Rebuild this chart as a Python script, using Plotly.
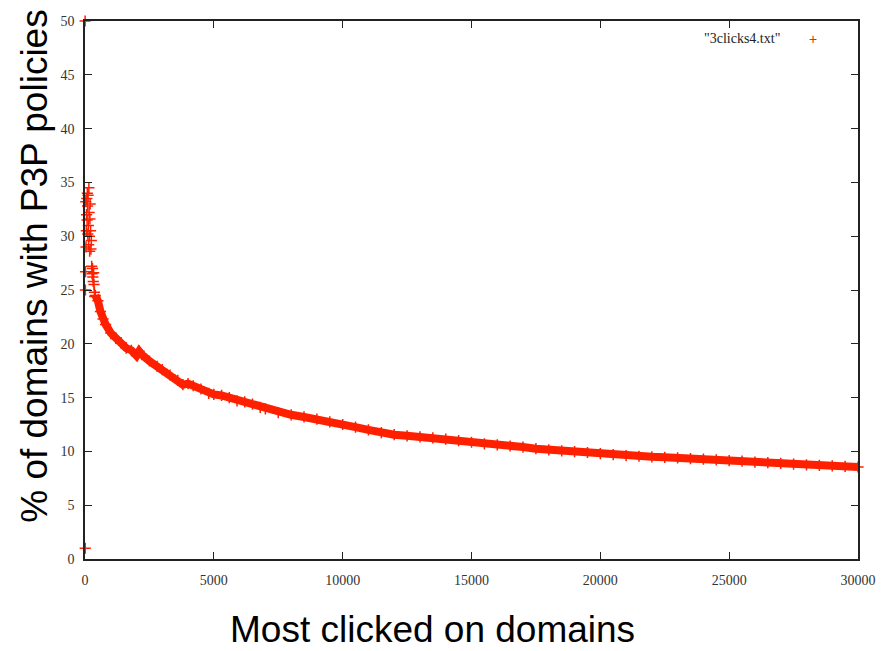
import plotly.graph_objects as go

# Early, noisy part of the series (rank of domain, % with P3P policy)
x_early = [5, 10, 15, 20, 30, 40, 50, 60, 70, 80, 90, 100, 110, 120, 130, 140, 150,
           160, 170, 180, 190, 200, 215, 230, 245, 260, 275, 290, 305, 320, 335, 350, 365, 380]
y_early = [50.0, 1.0, 25.0, 26.7, 33.2, 29.0, 30.5, 32.0, 33.5, 31.5, 34.0, 32.8, 30.2,
           33.8, 31.0, 29.2, 34.5, 32.2, 30.0, 28.6, 31.6, 33.0, 30.5, 28.8, 29.6, 27.2,
           26.5, 27.0, 26.2, 25.8, 26.6, 25.5, 24.8, 24.4]

# Smooth part of the series
x_main = [400, 500, 600, 700, 800, 1000, 1200, 1400, 1600, 1800, 2000, 2100, 2200, 2500,
          2800, 3000, 3300, 3600, 3800, 4000, 4200, 4500, 4800, 5000, 5300, 5600, 5900,
          6200, 6500, 6800, 7000, 7500, 8000, 8500, 9000, 9500, 10000, 10500, 11000,
          11500, 12000, 12500, 13000, 13500, 14000, 14500, 15000, 15500, 16000, 16500,
          17000, 17500, 18000, 18500, 19000, 19500, 20000, 20500, 21000, 21500, 22000,
          22500, 23000, 23500, 24000, 24500, 25000, 25500, 26000, 26500, 27000, 27500,
          28000, 28500, 29000, 29500, 30000]
y_main = [24.5, 24.0, 23.0, 22.3, 21.8, 21.0, 20.5, 20.1, 19.6, 19.4, 18.9, 19.3, 19.0,
          18.4, 17.9, 17.6, 17.1, 16.6, 16.2, 16.3, 16.1, 15.8, 15.4, 15.3, 15.2, 15.0,
          14.7, 14.6, 14.4, 14.1, 13.95, 13.6, 13.4, 13.2, 13.0, 12.75, 12.5, 12.25, 12.0,
          11.75, 11.55, 11.45, 11.35, 11.25, 11.15, 11.0, 10.85, 10.7, 10.6, 10.5, 10.4,
          10.25, 10.15, 10.05, 9.98, 9.9, 9.8, 9.7, 9.6, 9.55, 9.5, 9.45, 9.4, 9.33, 9.28,
          9.22, 9.15, 9.1, 9.0, 8.95, 8.88, 8.82, 8.75, 8.7, 8.65, 8.6, 8.55]

x_ticks = [0, 5000, 10000, 15000, 20000, 25000, 30000]
y_ticks = [0, 5, 10, 15, 20, 25, 30, 35, 40, 45, 50]

series_name = '"3clicks4.txt"'
x_title = "Most clicked on domains"
y_title = "% of domains with P3P policies"

RED = "#ff2000"
AX = "#222222"

fig = go.Figure()

# dense band of the series (drawn as a thick line through the read values)
fig.add_trace(go.Scatter(
    x=x_main, y=y_main, mode="lines",
    line=dict(color=RED, width=8),
    showlegend=False, hoverinfo="skip",
))

fig.add_trace(go.Scatter(
    x=x_early + x_main, y=y_early + y_main, mode="markers",
    name=series_name, cliponaxis=False,
    marker=dict(symbol="cross-thin", size=8, color=RED,
                line=dict(color=RED, width=1.5)),
    showlegend=False,
))

axis_common = dict(
    showgrid=False, zeroline=False,
    showline=True, linecolor=AX, linewidth=1.5,
    mirror="ticks", ticks="inside", ticklen=7, tickwidth=1, tickcolor=AX,
    tickfont=dict(family="Liberation Serif", size=14, color="#333333"),
)

fig.update_xaxes(range=[0, 30000], tickvals=x_ticks,
                 ticktext=[str(v) for v in x_ticks], ticklabelstandoff=7,
                 **axis_common)
fig.update_yaxes(range=[0, 50], tickvals=y_ticks,
                 ticktext=[str(v) for v in y_ticks], ticklabelstandoff=6,
                 **axis_common)

fig.update_layout(
    width=888, height=651,
    margin=dict(l=85, r=30, t=21, b=92),
    paper_bgcolor="white", plot_bgcolor="white",
    showlegend=False,
    annotations=[
        dict(text=y_title, xref="paper", yref="paper", x=-0.0647, y=0.545,
             textangle=-90, showarrow=False, xanchor="center", yanchor="middle",
             font=dict(family="Liberation Sans", size=37, color="black")),
        dict(text=x_title, xref="paper", yref="paper", x=0.449, y=-0.131,
             showarrow=False, xanchor="center", yanchor="middle",
             font=dict(family="Liberation Sans", size=37, color="black")),
        dict(text=series_name, xref="paper", yref="paper", x=0.9017, y=0.9684,
             showarrow=False, xanchor="right", yanchor="middle",
             font=dict(family="Liberation Serif", size=14, color="#222222")),
        dict(text="+", xref="paper", yref="paper", x=0.9414, y=0.967,
             showarrow=False, xanchor="center", yanchor="middle",
             font=dict(family="Liberation Sans", size=14, color=RED)),
    ],
)

fig.write_html(
    "out.html",
    config={"displayModeBar": False},
    post_script="document.body.style.margin='0px';document.body.style.overflow='hidden';",
)
